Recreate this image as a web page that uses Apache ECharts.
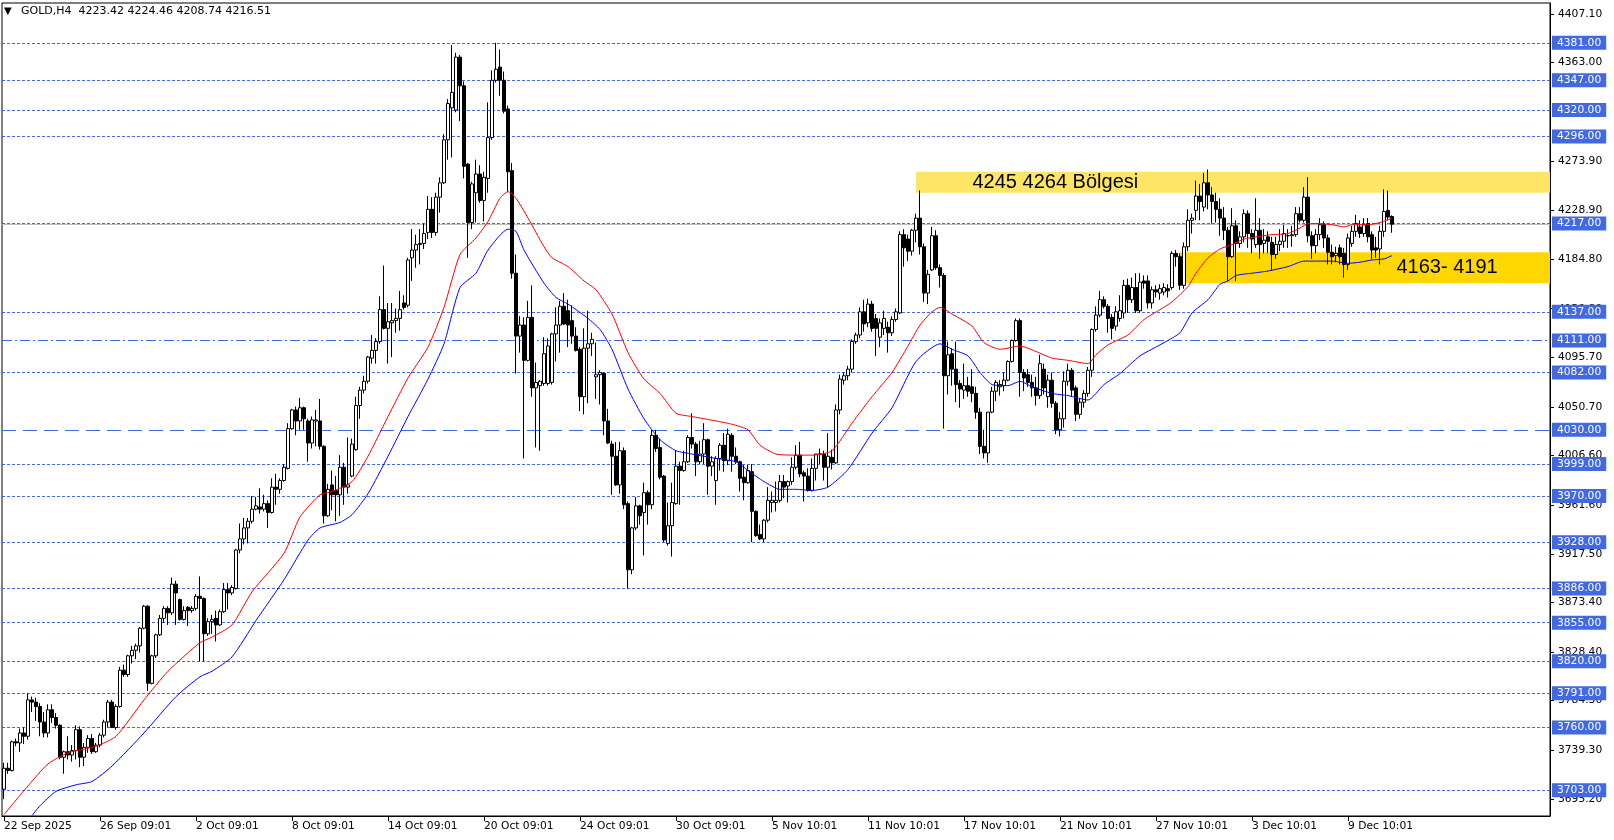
<!DOCTYPE html>
<html><head><meta charset="utf-8">
<script src="https://cdn.jsdelivr.net/npm/echarts@6/dist/echarts.min.js"></script>
<style>html,body{margin:0;padding:0;background:#fff;}#c{width:1614px;height:840px;}</style>
</head><body><div id="c"></div>
<script>
const symbolName = 'GOLD,H4';
const opens = [
3704,3723,3721,3747,3746,3755,3752,3785,3783,3779,
3765,3755,3776,3769,3762,3733,3738,3735,3739,3758,
3733,3742,3750,3738,3744,3753,3765,3783,3760,3779,
3812,3808,3825,3830,3834,3850,3870,3800,3825,3844,
3859,3868,3864,3890,3876,3858,3869,3866,3868,3879,
3877,3845,3856,3859,3853,3865,3885,3882,3886,3921,
3931,3941,3947,3958,3960,3958,3963,3955,3978,3976,
3984,3995,4031,4048,4038,4050,4038,4018,4038,4038,
4015,3952,3980,3975,3971,3996,3978,3988,4012,4052,
4066,4074,4095,4102,4110,4139,4122,4127,4129,4131,
4145,4143,4186,4193,4198,4199,4209,4230,4209,4241,
4254,4293,4322,4320,4368,4342,4271,4218,4245,4262,
4238,4258,4295,4347,4359,4347,4321,4265,4172,4115,
4125,4093,4132,4068,4070,4072,4072,4073,4117,4125,
4142,4138,4129,4115,4103,4060,4104,4108,4078,4080,
4081,4038,4017,4006,3980,4011,3963,3903,3941,3961,
3955,3973,3962,4025,4014,3988,3927,3943,3963,3997,
3993,4001,4023,4017,4001,4008,4021,3997,3984,4004,
4016,4002,4025,4006,4001,3987,3982,3992,3956,3935,
3931,3948,3964,3964,3966,3983,3979,3983,3996,4007,
3991,3988,3975,3995,4008,4008,3996,4005,4000,4048,
4075,4079,4085,4110,4116,4137,4127,4144,4131,4114,
4122,4123,4118,4130,4136,4207,4203,4192,4211,4222,
4196,4154,4175,4206,4177,4170,4079,4099,4085,4072,
4066,4070,4069,4063,4046,4015,4009,4046,4065,4069,
4070,4075,4092,4111,4129,4082,4080,4073,4068,4061,
4085,4060,4075,4054,4030,4040,4074,4084,4068,4044,
4055,4063,4084,4121,4134,4148,4142,4132,4124,4131,
4136,4161,4148,4159,4138,4165,4165,4145,4157,4154,
4155,4158,4159,4190,4187,4161,4196,4220,4229,4242,
4232,4254,4243,4237,4230,4222,4211,4187,4215,4199,
4205,4226,4208,4198,4211,4199,4205,4200,4189,4198,
4201,4206,4206,4207,4226,4220,4241,4206,4197,4207,
4216,4204,4191,4188,4195,4190,4180,4199,4210,4214,
4208,4217,4207,4195,4194,4210,4229,4223.42];
const highs = [
3728,3728,3748,3750,3759,3760,3791,3788,3787,3782,
3774,3781,3781,3773,3763,3739,3752,3744,3762,3761,
3746,3753,3754,3746,3755,3767,3785,3785,3781,3815,
3817,3826,3834,3836,3851,3871,3871,3826,3845,3862,
3870,3870,3896,3893,3877,3870,3870,3870,3881,3897,
3878,3859,3862,3866,3867,3891,3891,3889,3922,3945,
3950,3950,3970,3969,3977,3971,3966,3986,3990,3986,
3999,4036,4049,4051,4059,4051,4040,4042,4048,4058,
4016,3981,3993,3988,4007,4000,4023,4022,4060,4069,
4079,4097,4116,4113,4151,4179,4145,4145,4140,4156,
4152,4186,4212,4207,4212,4217,4242,4241,4245,4259,
4298,4330,4379,4372,4370,4346,4272,4255,4275,4270,
4264,4327,4356,4381,4375,4355,4324,4272,4189,4133,
4132,4147,4161,4091,4075,4114,4113,4118,4141,4147,
4154,4148,4143,4123,4105,4122,4138,4118,4109,4084,
4082,4049,4020,4019,4019,4014,3965,3942,3969,3962,
3982,3975,4030,4030,4022,3989,3964,3982,4011,4001,
4011,4025,4045,4019,4020,4036,4022,4006,4006,4018,
4027,4031,4027,4014,4002,3998,3998,3999,3957,3944,
3949,3978,3974,3983,3989,3989,3984,4005,4016,4019,
3993,3995,4004,4008,4013,4011,4027,4012,4053,4080,
4082,4088,4112,4118,4141,4148,4149,4147,4135,4131,
4138,4128,4133,4140,4210,4212,4207,4212,4226,4247,
4199,4175,4214,4211,4180,4172,4110,4104,4110,4075,
4090,4078,4085,4069,4050,4030,4046,4069,4075,4075,
4082,4093,4112,4131,4131,4085,4085,4080,4078,4098,
4090,4080,4082,4056,4046,4083,4090,4086,4070,4058,
4066,4087,4122,4142,4156,4151,4144,4135,4142,4152,
4166,4167,4168,4172,4172,4170,4170,4160,4161,4162,
4163,4162,4192,4193,4190,4200,4230,4226,4256,4253,
4263,4266,4250,4245,4240,4232,4214,4231,4220,4210,
4230,4229,4212,4240,4222,4212,4210,4205,4205,4212,
4216,4212,4215,4232,4232,4250,4259,4210,4212,4222,
4219,4207,4198,4196,4198,4195,4208,4215,4225,4220,
4222,4222,4210,4205,4215,4248,4247,4224.46];
const lows = [
3695,3718,3720,3743,3738,3745,3749,3774,3766,3752,
3751,3751,3764,3759,3731,3718,3731,3729,3731,3724,
3725,3737,3736,3737,3742,3751,3760,3760,3758,3778,
3806,3806,3818,3822,3828,3849,3793,3799,3823,3843,
3855,3853,3862,3853,3857,3857,3852,3864,3866,3820,
3820,3843,3845,3838,3852,3864,3867,3880,3885,3918,
3926,3927,3945,3957,3954,3956,3941,3954,3962,3972,
3983,3994,4030,4025,4030,4030,4001,4013,4015,4012,
3945,3951,3957,3947,3952,3962,3972,3987,4011,4040,
4063,4072,4090,4090,4108,4121,4090,4096,4118,4120,
4139,4141,4165,4177,4180,4194,4203,4204,4206,4227,
4253,4275,4277,4318,4310,4258,4186,4212,4218,4236,
4219,4245,4293,4345,4333,4317,4246,4167,4081,4100,
4004,4092,4060,4014,4011,4070,4070,4071,4092,4100,
4125,4105,4108,4101,4047,4044,4054,4097,4058,4053,
4025,4017,3971,3979,3972,3958,3886,3899,3939,3944,
3916,3944,3958,4010,3985,3928,3925,3915,3962,3962,
3992,4000,4013,3988,3999,3999,3971,3988,3962,3993,
3992,3998,3992,3999,3974,3966,3981,3928,3933,3930,
3928,3946,3955,3956,3964,3968,3964,3980,3994,3987,
3965,3974,3974,3984,3999,3984,3978,3994,3999,4044,
4071,4075,4082,4108,4113,4119,4123,4119,4097,4105,
4116,4100,4115,4128,4135,4178,4183,4188,4200,4189,
4146,4144,4174,4175,4159,4031,4062,4070,4055,4050,
4058,4060,4055,4040,4008,4004,4000,4045,4056,4061,
4065,4074,4091,4110,4060,4065,4069,4060,4052,4058,
4062,4050,4050,4026,4024,4032,4070,4060,4038,4040,
4050,4060,4078,4119,4132,4140,4118,4112,4120,4128,
4131,4136,4145,4136,4136,4158,4140,4140,4150,4148,
4152,4150,4157,4178,4157,4158,4192,4208,4220,4220,
4228,4230,4217,4218,4206,4202,4165,4186,4165,4195,
4200,4195,4190,4195,4185,4190,4190,4175,4185,4192,
4195,4195,4196,4205,4218,4218,4200,4185,4190,4202,
4195,4180,4180,4182,4180,4168,4175,4196,4205,4204,
4205,4200,4185,4186,4180,4205,4220,4208.74];
const closes = [
3723,3721,3747,3746,3755,3752,3785,3783,3779,3765,
3755,3776,3769,3762,3733,3738,3735,3739,3758,3733,
3742,3750,3738,3744,3753,3765,3783,3760,3779,3812,
3808,3825,3830,3834,3850,3870,3800,3825,3844,3859,
3868,3864,3890,3882,3858,3866,3866,3868,3879,3877,
3845,3856,3858,3853,3865,3885,3882,3887,3921,3931,
3941,3947,3958,3961,3958,3963,3955,3978,3976,3984,
3996,4031,4048,4038,4050,4040,4018,4039,4039,4015,
3952,3976,3971,3971,3996,3978,3980,4017,4052,4066,
4074,4096,4102,4110,4139,4122,4128,4129,4131,4139,
4141,4184,4193,4198,4199,4208,4230,4209,4241,4254,
4293,4326,4336,4368,4342,4269,4218,4253,4262,4238,
4259,4295,4347,4357,4347,4319,4264,4172,4115,4125,
4093,4132,4068,4073,4074,4099,4106,4117,4125,4142,
4126,4125,4115,4102,4060,4104,4108,4112,4080,4082,
4038,4018,4006,3980,4011,3962,3903,3941,3961,3952,
3973,3962,4025,4013,3987,3930,3943,3964,3997,3993,
4001,4023,4017,4001,4008,4021,3997,4001,4004,4016,
4002,4026,4006,4001,3986,3982,3993,3956,3934,3931,
3948,3966,3966,3966,3983,3978,3983,3996,4007,3990,
3988,3975,3995,4008,4008,3996,4006,4000,4048,4076,
4079,4085,4110,4116,4137,4126,4144,4122,4122,4127,
4131,4118,4130,4137,4207,4195,4192,4211,4222,4196,
4154,4171,4206,4177,4170,4079,4098,4085,4071,4067,
4070,4065,4063,4046,4015,4009,4046,4065,4073,4071,
4075,4092,4111,4129,4082,4077,4073,4068,4061,4090,
4068,4075,4054,4030,4040,4074,4084,4066,4044,4055,
4063,4084,4121,4134,4148,4142,4131,4122,4137,4138,
4161,4148,4159,4138,4164,4163,4145,4157,4155,4158,
4159,4156,4190,4187,4161,4196,4220,4222,4242,4237,
4254,4243,4237,4230,4222,4211,4187,4215,4199,4205,
4226,4208,4203,4211,4198,4202,4201,4189,4198,4201,
4208,4206,4207,4226,4220,4241,4206,4197,4207,4216,
4204,4191,4187,4190,4187,4180,4204,4210,4217,4208,
4216,4205,4193,4193,4210,4228,4223,4216.51];

// moving averages: [bar index, value]
const redMA = [[0,3681],[6,3707],[11,3727],[16,3737],[23,3743],[28,3752],[35,3785],[41,3811],[49,3837],[52,3842],[57,3853],[62,3883],[70,3918],[74,3951],[79,3971],[82,3974],[87,3983],[91,4006],[96,4042],[101,4077],[106,4105],[110,4141],[114,4189],[118,4204],[121,4219],[124,4240],[126,4246],[128,4240],[131,4222],[135,4196],[137,4186],[141,4178],[145,4165],[148,4157],[152,4135],[156,4100],[160,4076],[164,4063],[168,4045],[172,4042],[178,4038],[182,4035],[186,4030],[189,4016],[193,4008],[198,4007],[202,4007],[207,4011],[212,4036],[217,4060],[222,4082],[226,4106],[229,4125],[232,4137],[234,4141],[237,4135],[242,4124],[245,4109],[249,4103],[254,4106],[258,4101],[262,4095],[266,4093],[271,4090],[273,4098],[276,4107],[281,4116],[285,4130],[289,4139],[292,4146],[296,4160],[298,4172],[301,4186],[304,4194],[307,4198],[310,4203],[313,4205],[317,4207],[321,4208],[324,4213],[326,4217],[329,4217],[332,4216],[335,4214],[337,4216],[341,4216],[344,4218],[347,4222]];
const blueMA = [[7,3680],[9,3689],[13,3702],[18,3708],[22,3711],[27,3725],[35,3755],[43,3788],[49,3806],[52,3811],[57,3824],[63,3857],[70,3894],[76,3930],[79,3941],[84,3946],[87,3953],[91,3972],[96,4006],[101,4042],[106,4076],[110,4108],[114,4159],[118,4172],[121,4193],[126,4212],[128,4210],[130,4193],[135,4163],[138,4150],[141,4144],[146,4131],[149,4121],[152,4103],[156,4067],[160,4040],[164,4021],[168,4011],[172,4008],[178,4004],[183,4001],[186,3993],[190,3983],[194,3976],[198,3976],[202,3975],[206,3978],[211,3994],[217,4027],[222,4050],[228,4092],[234,4108],[237,4103],[241,4097],[244,4082],[247,4071],[251,4070],[254,4074],[257,4069],[262,4063],[266,4061],[271,4057],[275,4071],[279,4081],[284,4097],[290,4109],[294,4118],[297,4136],[301,4148],[304,4162],[306,4165],[308,4170],[312,4172],[316,4174],[321,4178],[325,4183],[329,4183],[332,4183],[336,4181],[339,4182],[342,4184],[345,4185],[347,4188]];

const xTickLabels = ['22 Sep 2025','26 Sep 09:01','2 Oct 09:01','8 Oct 09:01','14 Oct 09:01','20 Oct 09:01','24 Oct 09:01','30 Oct 09:01','5 Nov 10:01','11 Nov 10:01','17 Nov 10:01','21 Nov 10:01','27 Nov 10:01','3 Dec 10:01','9 Dec 10:01'];
const yTickValues = [4407.10,4363.00,4273.90,4228.90,4184.80,4139.80,4095.70,4050.70,4006.60,3961.60,3917.50,3873.40,3828.40,3784.30,3739.30,3695.20];
const dottedLevels = [4381,4347,4320,4296,4217,4137,4082,3999,3970,3928,3886,3855,3820,3791,3760,3703];
const dashDotLevels = [4111];
const longDashLevels = [4030];
const resistanceZone = [4245, 4264];
const supportZone = [4163, 4191];
const resistanceText = '4245 4264 Bölgesi';
const supportText = '4163- 4191';
const resistanceStartBar = 228;
const supportStartBar = 294;
const resistanceTextBar = 242;
const supportTextBar = 348;
const slotCount = 387;
const labelStep = 24;
const yMin = 3679.7, yMax = 4417.1;

const cats = Array.from({length: slotCount}, (_, i) => String(i));
const candles = opens.map((o, i) => [o, closes[i], lows[i], highs[i]]);
const last = opens.length - 1;
const header = symbolName + '  ' + [opens[last], highs[last], lows[last], closes[last]].map(v => v.toFixed(2)).join(' ');

const LVL_COLOR = '#4169E1';
const axFont = 'DejaVu Sans';
function lvl(v, type) {
  return {
    yAxis: v,
    lineStyle: {type: type, color: LVL_COLOR, width: 1},
    label: {show: true, position: 'end', distance: 2, formatter: v.toFixed(2),
      backgroundColor: LVL_COLOR, color: '#fff', padding: [2, 5, 1, 5],
      fontSize: 10.7, fontFamily: axFont}
  };
}
const levelData = []
  .concat(dottedLevels.map(v => lvl(v, [3, 2])))
  .concat(dashDotLevels.map(v => lvl(v, [10, 3, 2, 3])))
  .concat(longDashLevels.map(v => lvl(v, [14, 7])));
levelData.push({yAxis: closes[last], lineStyle: {type: 'solid', color: '#C0C0C0', width: 1}, label: {show: false}});

const showTick = (idx) => idx % labelStep === 0 && idx / labelStep < xTickLabels.length;

const chart = echarts.init(document.getElementById('c'), null, {renderer: 'canvas'});
chart.setOption({
  animation: false,
  backgroundColor: '#fff',
  grid: {left: 2, right: 64, top: 3, bottom: 24, show: true, borderColor: '#000', borderWidth: 1},
  xAxis: {
    type: 'category', data: cats, boundaryGap: true,
    axisLine: {show: true, lineStyle: {color: '#000'}},
    axisTick: {show: true, interval: showTick, alignWithLabel: true, length: 5, lineStyle: {color: '#000'}},
    axisLabel: {interval: showTick, formatter: (v, i) => xTickLabels[i / labelStep], align: 'left',
      margin: 5, color: '#000', fontSize: 10.7, fontFamily: axFont},
    splitLine: {show: false}
  },
  yAxis: {
    type: 'value', position: 'right', min: yMin, max: yMax, scale: true,
    axisLine: {show: true, lineStyle: {color: '#000'}},
    axisTick: {show: true, length: 4, customValues: yTickValues, lineStyle: {color: '#000'}},
    axisLabel: {customValues: yTickValues, formatter: v => v.toFixed(2), margin: 8,
      color: '#000', fontSize: 10.7, fontFamily: axFont},
    splitLine: {show: false}
  },
  graphic: [
    {type: 'text', left: 4, top: 6, z: 100, style: {text: '▼', font: '10px DejaVu Sans', fill: '#000'}},
    {type: 'text', left: 21, top: 6, z: 100, style: {text: header, font: '11px DejaVu Sans', fill: '#000'}}
  ],
  series: [
    {
      type: 'candlestick', data: candles, barWidth: 3, z: 3,
      itemStyle: {color: '#ffffff', color0: '#000000', borderColor: '#000000', borderColor0: '#000000', borderWidth: 1},
      markArea: {
        silent: true, z: 1,
        data: [
          [{xAxis: resistanceStartBar, yAxis: resistanceZone[0], itemStyle: {color: '#FFE566'}}, {yAxis: resistanceZone[1]}],
          [{xAxis: supportStartBar, yAxis: supportZone[0], itemStyle: {color: '#FFD700'}}, {yAxis: supportZone[1]}]
        ]
      },
      markLine: {silent: true, symbol: ['none', 'none'], z: 2, animation: false, data: levelData},
      markPoint: {
        silent: true, symbol: 'circle', symbolSize: 1, itemStyle: {color: 'rgba(0,0,0,0)'},
        data: [
          {coord: [resistanceTextBar, (resistanceZone[0] + resistanceZone[1]) / 2],
           label: {show: true, position: 'right', distance: 0, formatter: resistanceText, color: '#000', fontSize: 20, fontFamily: 'Liberation Sans'}},
          {coord: [supportTextBar, (supportZone[0] + supportZone[1]) / 2],
           label: {show: true, position: 'right', distance: 0, formatter: supportText, color: '#000', fontSize: 20, fontFamily: 'Liberation Sans'}}
        ]
      }
    },
    {type: 'line', data: redMA, showSymbol: false, smooth: 0.2, z: 4, lineStyle: {color: '#FF0000', width: 1}},
    {type: 'line', data: blueMA, showSymbol: false, smooth: 0.2, z: 4, lineStyle: {color: '#0000FF', width: 1}}
  ]
});
</script></body></html>
